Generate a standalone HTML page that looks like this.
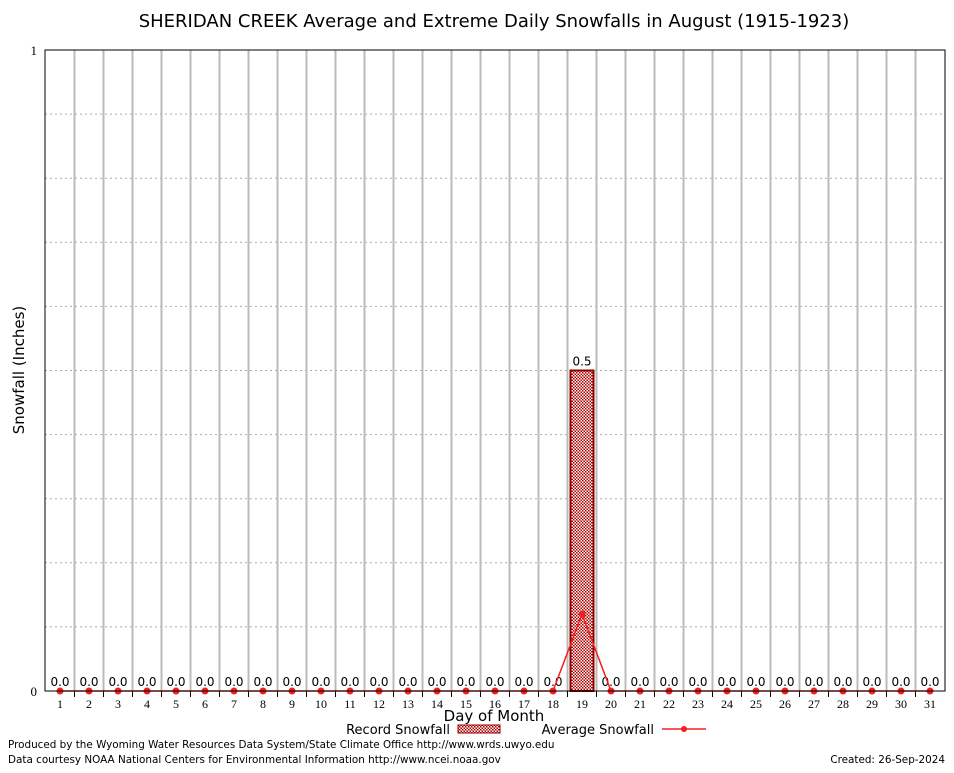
<!DOCTYPE html>
<html><head><meta charset="utf-8"><style>
html,body{margin:0;padding:0;background:#fff}
svg text{font-family:"DejaVu Sans","Liberation Sans",sans-serif}
svg text.serif{font-family:"Liberation Serif",serif}
</style></head><body>
<svg id="c" width="954" height="768" xmlns="http://www.w3.org/2000/svg">
<defs>
<pattern id="hatch" width="3" height="3" patternUnits="userSpaceOnUse">
<rect width="3" height="3" fill="#fff"/><rect width="1.5" height="1.5" fill="#b00000"/><rect x="1.5" y="1.5" width="1.5" height="1.5" fill="#b00000"/>
</pattern>
</defs>
<text x="494" y="27" text-anchor="middle" font-size="18">SHERIDAN CREEK Average and Extreme Daily Snowfalls in August (1915-1923)</text>
<g id="grid"></g>
<g id="marks"></g>
<rect x="45" y="50" width="900" height="641" fill="none" stroke="#000" stroke-width="1"/>
<text x="24" y="370" text-anchor="middle" font-size="15" transform="rotate(-90 24 370)">Snowfall (Inches)</text>
<text x="494" y="721" text-anchor="middle" font-size="15">Day of Month</text>
<g>
<text x="450" y="734" text-anchor="end" font-size="13">Record Snowfall</text>
<rect x="458" y="725" width="42" height="8" fill="url(#hatch)" stroke="#8b0000"/>
</g>
<g>
<text x="654" y="734" text-anchor="end" font-size="13">Average Snowfall</text>
<line x1="662" y1="729" x2="706" y2="729" stroke="#f02020" stroke-width="1.5"/>
<circle cx="684" cy="729" r="3" fill="#f02020"/>
</g>
<text x="8" y="748" font-size="10.4">Produced by the Wyoming Water Resources Data System/State Climate Office http://www.wrds.uwyo.edu</text>
<text x="8" y="763" font-size="10.4">Data courtesy NOAA National Centers for Environmental Information http://www.ncei.noaa.gov</text>
<text x="945" y="763" text-anchor="end" font-size="10.4">Created: 26-Sep-2024</text>
</svg>
<script>
const days=[];for(let d=1;d<=31;d++)days.push(d);
const recordVals=[0,0,0,0,0,0,0,0,0,0,0,0,0,0,0,0,0,0,0.5,0,0,0,0,0,0,0,0,0,0,0,0];
const avgVals=[0,0,0,0,0,0,0,0,0,0,0,0,0,0,0,0,0,0,0.12,0,0,0,0,0,0,0,0,0,0,0,0];
const yTicks=[0,1];
const NS='http://www.w3.org/2000/svg';
const x=d=>60+(d-1)*29;
const y=v=>691-v*641;
function mk(t,a,p){const e=document.createElementNS(NS,t);for(const k in a)e.setAttribute(k,a[k]);p.appendChild(e);return e;}
const g=document.getElementById('grid'),m=document.getElementById('marks');
for(let i=1;i<10;i++){const l=mk('line',{x1:45,x2:945,y1:y(i/10),y2:y(i/10),stroke:'#aaa','stroke-dasharray':'2,3'},g);

}
for(let d=1;d<31;d++){const l=mk('line',{x1:x(d)+14.5,x2:x(d)+14.5,y1:50,y2:691,stroke:'#bbb','stroke-width':2},g);


mk('line',{x1:x(d)+14.5,x2:x(d)+14.5,y1:691,y2:697,stroke:'#000'},g);}
yTicks.forEach(v=>{const t=mk('text',{x:37,y:y(v)+5,'text-anchor':'end','font-size':13,'class':'serif'},g);t.textContent=v;

});
days.forEach((d,i)=>{
const t=mk('text',{x:x(d),y:708,'text-anchor':'middle','font-size':12,'class':'serif'},g);t.textContent=d;


const v=recordVals[i];
if(v>0){const r=mk('rect',{x:x(d)-11.5,y:y(v),width:23,height:y(0)-y(v),fill:'url(#hatch)',stroke:'#8b0000','stroke-width':2},m);

}
const lb=mk('text',{x:x(d),y:y(v)-5,'text-anchor':'middle','font-size':12},m);lb.textContent=v.toFixed(1);


});
const pts=days.map((d,i)=>x(d)+','+y(avgVals[i])).join(' ');
const pl=mk('polyline',{points:pts,fill:'none',stroke:'#f02020','stroke-width':1.5},m);


days.forEach((d,i)=>{const c=mk('circle',{cx:x(d),cy:y(avgVals[i]),r:3.5,fill:'#f02020'},m);

});
</script>
</body></html>
